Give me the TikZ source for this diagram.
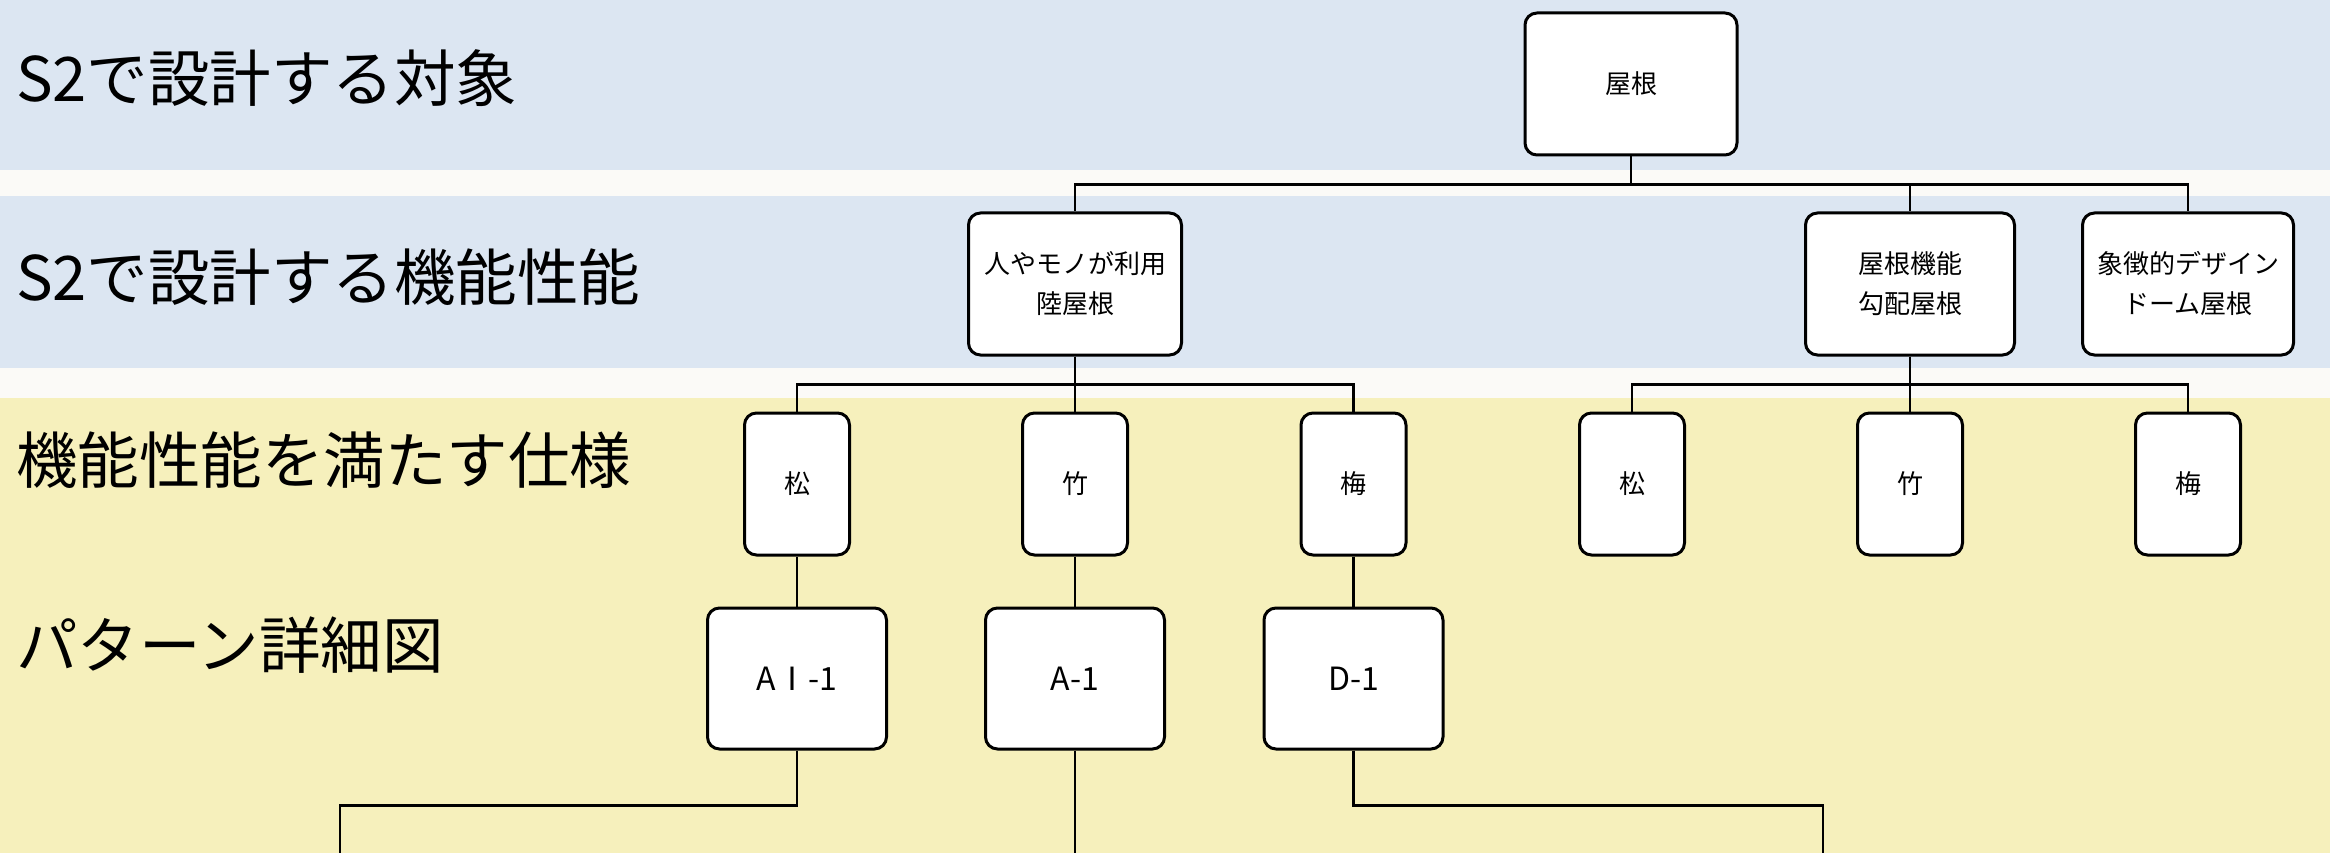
\documentclass[tikz,border=0pt]{standalone}
\usepackage{fontspec}
\setmainfont{Noto Sans CJK JP}
\newfontfamily\jp{Noto Sans CJK JP}
\definecolor{bandblue}{HTML}{DCE6F2}
\definecolor{bandyellow}{HTML}{F6F0BC}
\definecolor{gapwhite}{HTML}{FBFAF7}
\tikzset{
  box/.style={draw=black, fill=white, line width=3pt, rounded corners=12pt,
    align=center, inner sep=0pt, font=\jp\fontsize{26}{40}\selectfont},
  pbox/.style={box, font=\jp\fontsize{32}{38}\selectfont},
  rowlabel/.style={anchor=west, inner sep=0pt, font=\jp\fontsize{61.5}{72}\selectfont},
  conn/.style={draw=black, line width=2.5pt},
}
\begin{document}
\begin{tikzpicture}[x=1pt, y=-1pt]
\useasboundingbox (0,0) rectangle (2330,853);
% backgrounds
\fill[gapwhite] (0,0) rectangle (2330,853);
\fill[bandblue] (0,0) rectangle (2330,170);
\fill[bandblue] (0,196) rectangle (2330,368);
\fill[bandyellow] (0,398) rectangle (2330,853);
% row labels
\node[rowlabel] (t1) at (16,78) {S2で設計する対象};
\node[rowlabel] (t2) at (16,277) {S2で設計する機能性能};
\node[rowlabel] (t3) at (16,460) {機能性能を満たす仕様};
\node[rowlabel] (t4) at (16,645) {パターン詳細図};
% level 1
\node[box, minimum width=212pt, minimum height=142pt] (root) at (1631,84) {屋根};
% level 2
\node[box, minimum width=213pt, minimum height=142pt] (f1) at (1075,284) {人やモノが利用\\陸屋根};
\node[box, minimum width=209pt, minimum height=142pt] (f2) at (1910,284) {屋根機能\\勾配屋根};
\node[box, minimum width=211pt, minimum height=142pt] (f3) at (2188,284) {象徴的デザイン\\ドーム屋根};
% level 3
\node[box, minimum width=105pt, minimum height=142pt] (s1) at (797,484) {松};
\node[box, minimum width=105pt, minimum height=142pt] (s2) at (1075,484) {竹};
\node[box, minimum width=105pt, minimum height=142pt] (s3) at (1353.5,484) {梅};
\node[box, minimum width=105pt, minimum height=142pt] (s4) at (1632,484) {松};
\node[box, minimum width=105pt, minimum height=142pt] (s5) at (1910,484) {竹};
\node[box, minimum width=105pt, minimum height=142pt] (s6) at (2188,484) {梅};
% level 4
\node[pbox, minimum width=179pt, minimum height=141pt] (p1) at (797,678.5) {AⅠ-1};
\node[pbox, minimum width=179pt, minimum height=141pt] (p2) at (1075,678.5) {A-1};
\node[pbox, minimum width=179pt, minimum height=141pt] (p3) at (1353.5,678.5) {D-1};
% free ends at bottom
\coordinate (e1) at (340,856);
\coordinate (e2) at (1075,856);
\coordinate (e3) at (1823,856);
% connectors
\draw[conn] (root.south) -- ++(0,28) -| (f1.north);
\draw[conn] (root.south) -- ++(0,28) -| (f2.north);
\draw[conn] (root.south) -- ++(0,28) -| (f3.north);
\draw[conn] (f1.south) -- ++(0,28) -| (s1.north);
\draw[conn] (f1.south) -- ++(0,28) -| (s2.north);
\draw[conn] (f1.south) -- ++(0,28) -| (s3.north);
\draw[conn] (f2.south) -- ++(0,28) -| (s4.north);
\draw[conn] (f2.south) -- ++(0,28) -| (s5.north);
\draw[conn] (f2.south) -- ++(0,28) -| (s6.north);
\draw[conn] (s1.south) -- (p1.north);
\draw[conn] (s2.south) -- (p2.north);
\draw[conn] (s3.south) -- (p3.north);
\draw[conn] (p1.south) -- ++(0,55) -| (e1);
\draw[conn] (p2.south) -- (e2);
\draw[conn] (p3.south) -- ++(0,55) -| (e3);
\end{tikzpicture}
\end{document}
